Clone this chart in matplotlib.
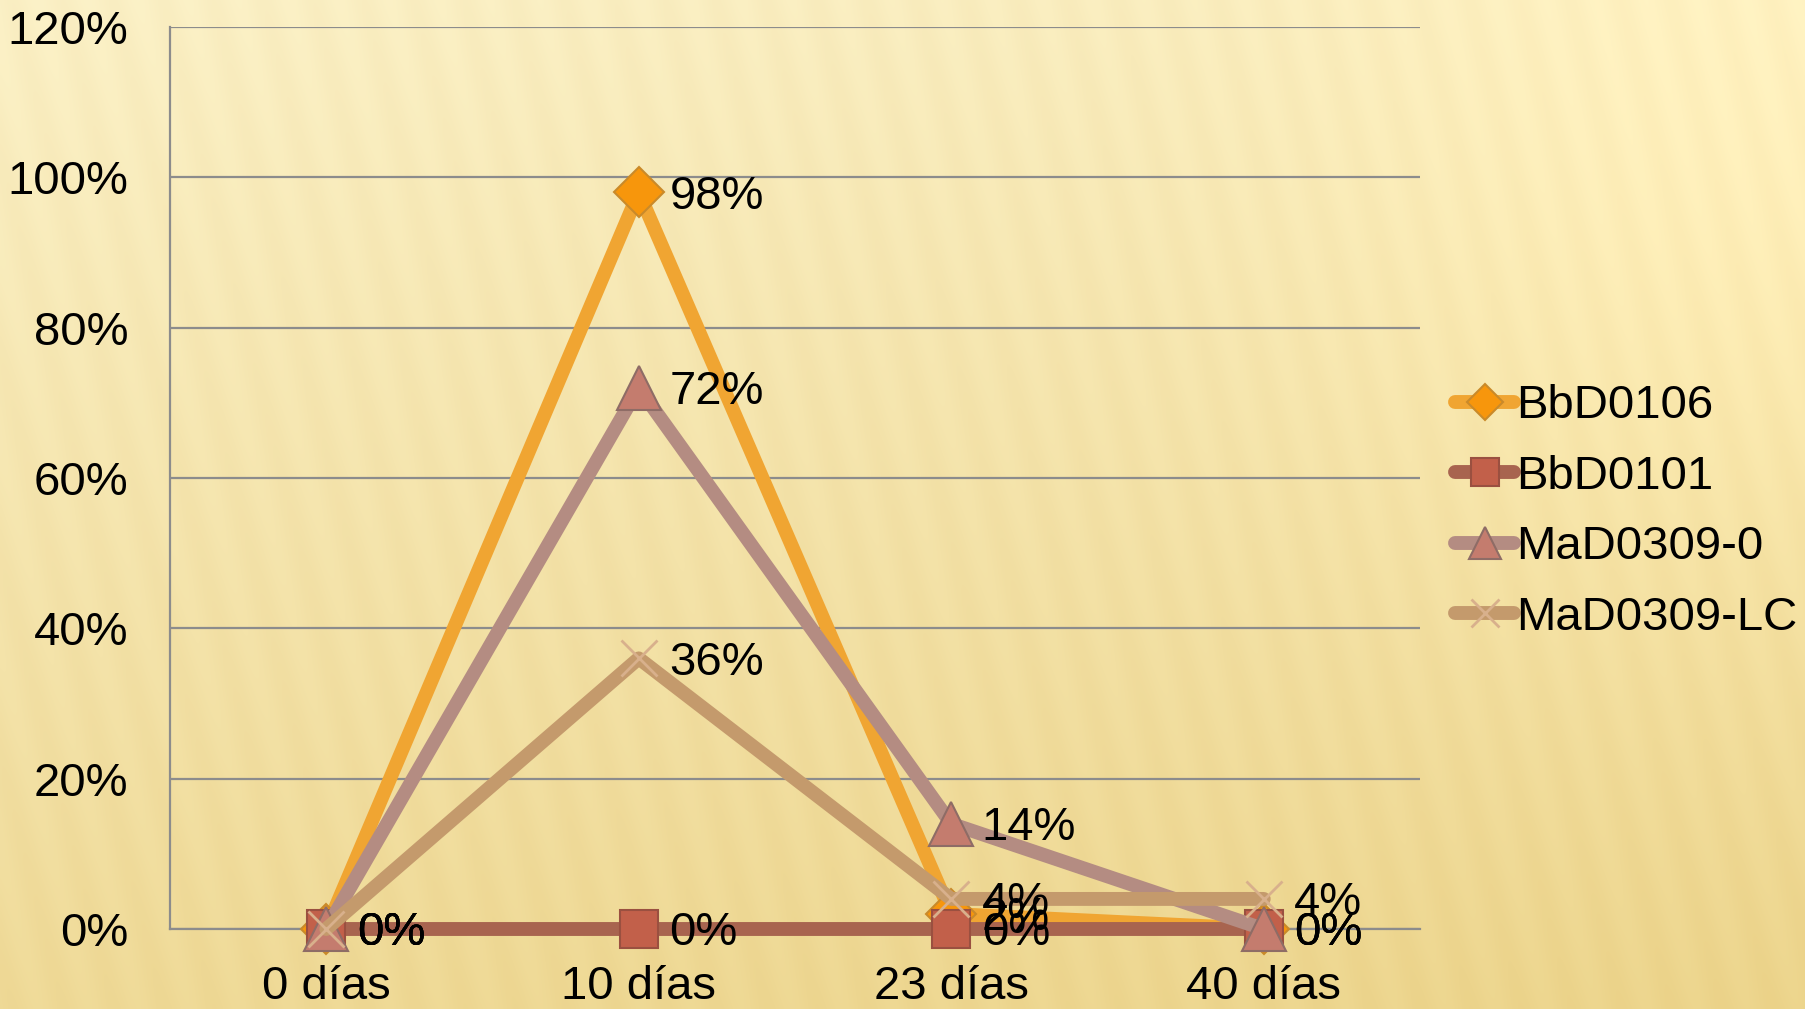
import numpy as np
import matplotlib
matplotlib.use("Agg")
import matplotlib.pyplot as plt
from matplotlib.ticker import PercentFormatter

categories = ["0 días", "10 días", "23 días", "40 días"]
series_names = ["BbD0106", "BbD0101", "MaD0309-0", "MaD0309-LC"]
bbd0106 = [0.00, 0.98, 0.02, 0.00]
bbd0101 = [0.00, 0.00, 0.00, 0.00]
mad0309_0 = [0.00, 0.72, 0.14, 0.00]
mad0309_lc = [0.00, 0.36, 0.04, 0.04]
yticks = [0.0, 0.2, 0.4, 0.6, 0.8, 1.0, 1.2]

plt.rcParams['font.family'] = ['Liberation Sans', 'DejaVu Sans']

W, H = 1806, 1009
FS = 34
fig = plt.figure(figsize=(W / 100, H / 100), dpi=100)

# background gradient with soft stripes
bg = fig.add_axes([0, 0, 1, 1], zorder=-10)
yy, xx = np.mgrid[0:H:2, 0:W:2]
t = (yy / H) * 0.75 + (xx / W) * 0.2
top = np.array([252, 242, 200]) / 255.0
bot = np.array([236, 212, 138]) / 255.0
img = top[None, None, :] * (1 - t[..., None]) + bot[None, None, :] * t[..., None]
glow = np.exp(-(((xx - 1800) / 450.0) ** 2 + ((yy - 200) / 450.0) ** 2))
img = img + 0.035 * glow[..., None]
stripe = 0.5 + 0.5 * np.sin((xx + 0.25 * (H - yy)) / 8.0)
img = img - 0.022 * stripe[..., None] * np.array([0.4, 0.7, 1.0])[None, None, :]
bg.imshow(np.clip(img, 0, 1), extent=[0, 1, 0, 1], aspect='auto', interpolation='bilinear')
bg.set_axis_off()

ax = fig.add_axes([170 / W, 1 - 929 / H, (1420 - 170) / W, (929 - 27) / H])
ax.patch.set_alpha(0)
x = np.arange(len(categories)) + 0.5
ax.set_xlim(0, len(categories))
ax.set_ylim(0, 1.2)
ax.set_yticks(yticks)
ax.yaxis.set_major_formatter(PercentFormatter(1.0, decimals=0))
ax.set_xticks(x)
ax.set_xticklabels(categories)
ax.tick_params(axis='both', length=0, labelsize=FS, colors='black')
ax.tick_params(axis='y', pad=30)
ax.tick_params(axis='x', pad=26)
ax.grid(axis='y', color='#8c8c8c', linewidth=1.6, zorder=0)
for s in ['top', 'right']:
    ax.spines[s].set_visible(False)
ax.spines['left'].set_color('#8c8c8c')
ax.spines['left'].set_linewidth(1.6)
ax.spines['bottom'].set_color('#8c8c8c')
ax.spines['bottom'].set_linewidth(1.6)

styles = [
    (bbd0106, '#f0a532', 'D', '#f7960c', '#c98a2a', 25, 1.5),
    (bbd0101, '#a8644f', 's', '#c2604a', '#9a5040', 27, 1.5),
    (mad0309_0, '#b48c82', '^', '#c47c6e', '#8e6c66', 31, 1.5),
    (mad0309_lc, '#c49a6c', 'x', '#d8b08c', '#d8b08c', 26, 2.0),
]
handles = []
for name, (vals, lc, mk, mfc, mec, ms, mew) in zip(series_names, styles):
    h, = ax.plot(x, vals, color=lc, linewidth=10, solid_capstyle='round',
                 solid_joinstyle='round', marker=mk, markersize=ms,
                 markerfacecolor=mfc, markeredgecolor=mec, markeredgewidth=mew,
                 label=name, zorder=3, clip_on=False)
    handles.append(h)

for vals in [bbd0106, bbd0101, mad0309_0, mad0309_lc]:
    for xi, v in zip(x, vals):
        ax.annotate(f"{v * 100:.0f}%", (xi, v), xytext=(22, -3), textcoords='offset points',
                    ha='left', va='center', fontsize=FS, color='black', zorder=5,
                    annotation_clip=False)

leg = fig.legend(handles=handles, labels=series_names, loc='center left',
                 bbox_to_anchor=(1455 / W, 1 - 512 / H), frameon=False, fontsize=FS,
                 handlelength=1.25, handletextpad=0.05, labelspacing=0.56, markerscale=0.75,
                 borderpad=0, borderaxespad=0)

fig.savefig("out.png", dpi=100)
